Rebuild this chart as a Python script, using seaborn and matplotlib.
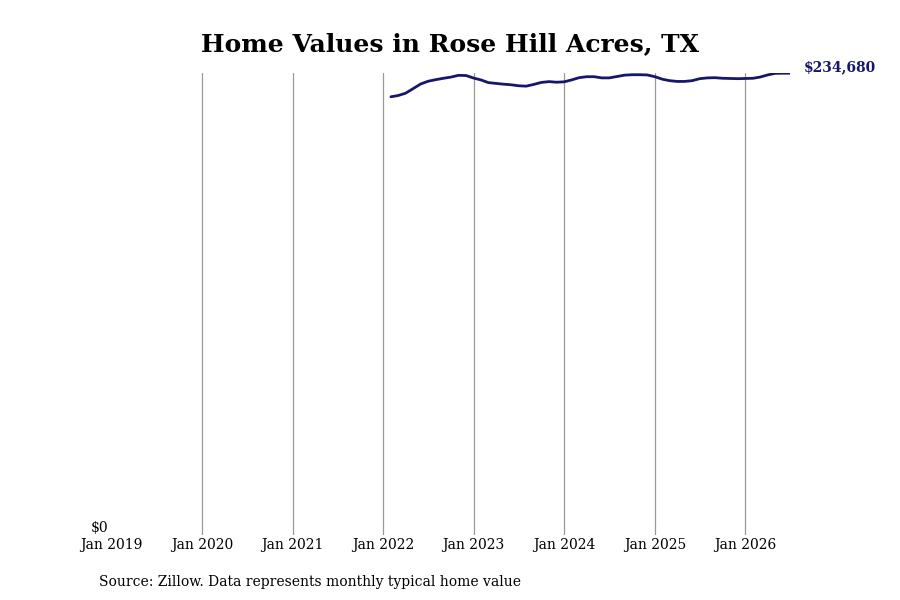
import matplotlib
matplotlib.use("Agg")
import matplotlib.pyplot as plt
import pandas as pd
import seaborn as sns

# monthly typical home value, Feb 2022 - Jul 2026
values_2022 = [222700, 223300, 224500, 226800, 229200, 230600, 231400, 232100, 232700, 233600, 233500]
values_2023 = [232200, 231200, 229900, 229500, 229100, 228800, 228300, 228100, 229000, 230000, 230400, 230100]
values_2024 = [230300, 231300, 232400, 232900, 232900, 232300, 232300, 233000, 233700, 233900, 233900, 233800]
values_2025 = [232900, 231600, 230900, 230500, 230500, 230900, 231900, 232300, 232400, 232100, 232000, 231900]
values_2026 = [232000, 232100, 232700, 233800, 234600, 234680, 234680]
tick_years = [2019, 2020, 2021, 2022, 2023, 2024, 2025, 2026]

values = values_2022 + values_2023 + values_2024 + values_2025 + values_2026
dates = pd.date_range("2022-02-01", periods=len(values), freq="MS")
df = pd.DataFrame({"date": dates, "value": values})

sns.set_style("white")
plt.rcParams["font.family"] = ["DejaVu Serif"]
plt.rcParams["text.color"] = "black"
plt.rcParams["xtick.color"] = "black"
plt.rcParams["ytick.color"] = "black"

fig = plt.figure(figsize=(9, 6), dpi=100)
ax = fig.add_axes([0.124, 0.108, 0.754, 0.77])

ticks = [pd.Timestamp(f"{y}-01-01") for y in tick_years]
for t in ticks[1:]:
    ax.axvline(t, color="#999999", linewidth=0.9, zorder=0)

sns.lineplot(data=df, x="date", y="value", ax=ax, color="#16166b", linewidth=2)

ax.set_xlim(pd.Timestamp("2019-01-01"), dates[-1])
ax.set_ylim(0, max(values))
ax.set_xticks(ticks)
ax.set_xticklabels([f"Jan {y}" for y in tick_years], fontsize=10)
ax.set_yticks([0])
ax.set_yticklabels(["$0"], fontsize=10, va="bottom")
ax.tick_params(length=0, pad=2)
ax.set_xlabel("")
ax.set_ylabel("")
for s in ax.spines.values():
    s.set_visible(False)

ax.annotate(f"${values[-1]:,}", xy=(dates[-1], values[-1]), xytext=(10, 4),
            textcoords="offset points", fontsize=10, fontweight="bold",
            color="#16166b", va="center", ha="left", annotation_clip=False)

fig.text(0.5, 0.926, "Home Values in Rose Hill Acres, TX", ha="center", va="center",
         fontsize=18, fontweight="bold")
fig.text(0.11, 0.03, "Source: Zillow. Data represents monthly typical home value",
         ha="left", va="center", fontsize=10)

fig.savefig("out.png", dpi=100)
